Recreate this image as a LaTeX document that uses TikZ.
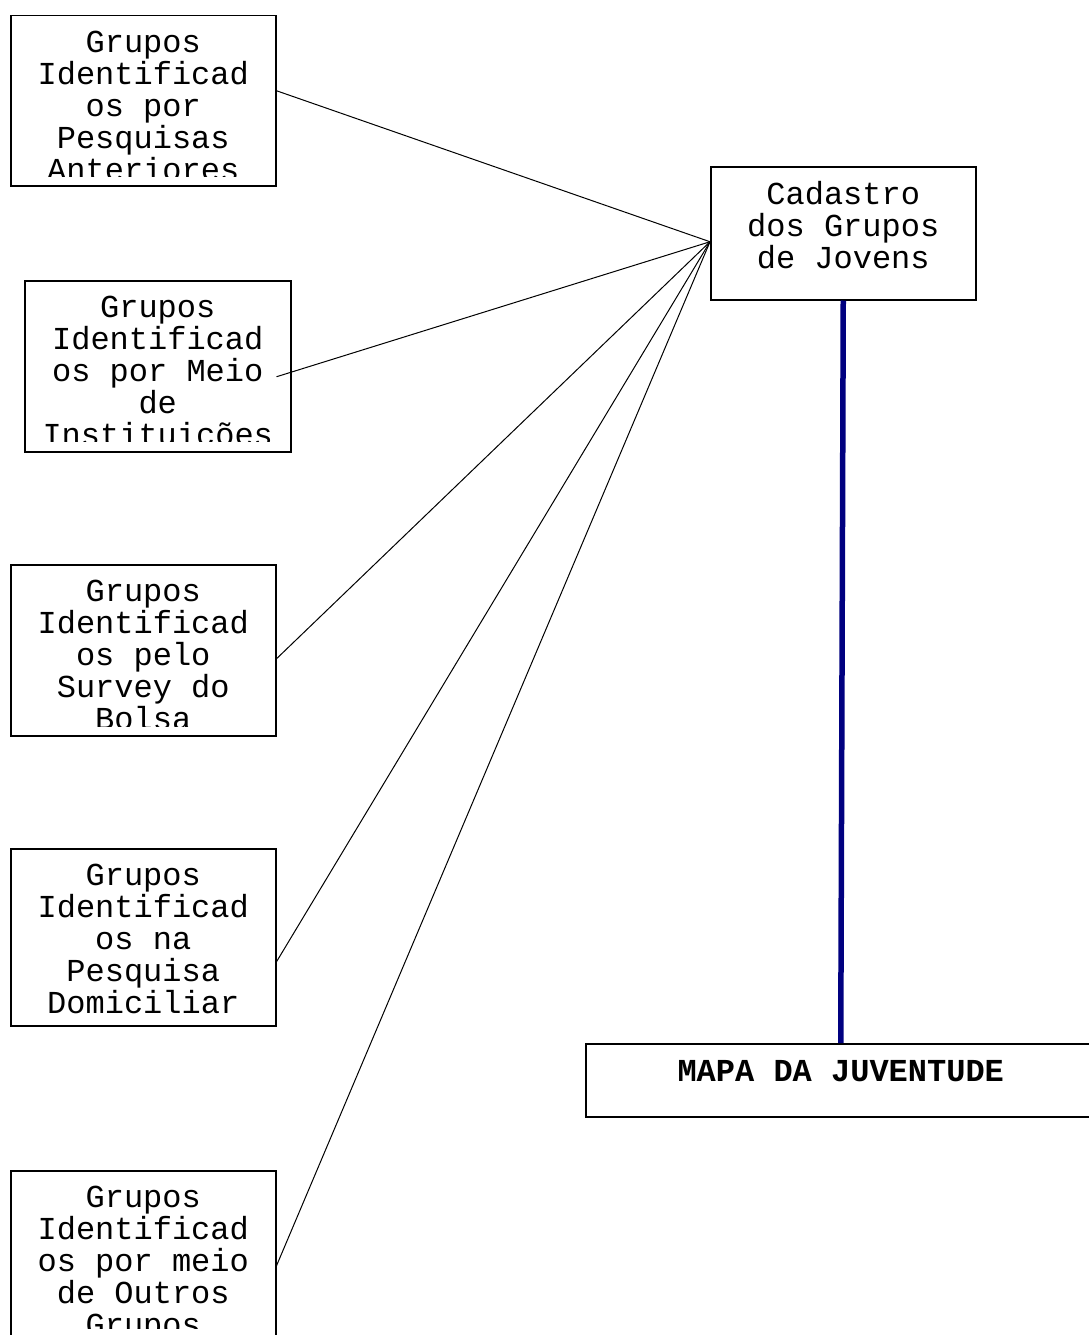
\documentclass[tikz,border=0pt]{standalone}
\usepackage{fontspec}
\setmainfont{Liberation Mono}
\definecolor{azulescuro}{RGB}{0,0,128}
\begin{document}
\begin{tikzpicture}[
    x=1pt, y=-1pt,
    caixa/.style={draw, line width=1.5pt, anchor=north west, inner sep=0pt, minimum width=265pt},
    texto/.style={font=\fontsize{32}{32}\selectfont, align=center, anchor=north, inner sep=0pt, execute at begin node=\strut},
    ligacao/.style={line width=1pt},
    eixo/.style={line width=5.5pt, draw=azulescuro}
  ]
    \useasboundingbox (0,0) rectangle (1088,1335);

    % Grupos (left column)
    \node[caixa, minimum height=170pt] (g1) at (10,15) {};
    \node[caixa, minimum height=171pt, minimum width=266pt] (g2) at (24,280) {};
    \node[caixa, minimum height=171pt] (g3) at (10,564) {};
    \node[caixa, minimum height=177pt] (g4) at (10,848) {};
    \node[caixa, minimum height=167pt] (g5) at (10,1170) {};

    % Texts, cut off near the bottom of each box
    \begin{scope}
      \clip (g1.north west) rectangle ([yshift=10pt]g1.south east);
      \node[texto] (t1) at ([yshift=-15.6pt]g1.north) {Grupos\\Identificad\\os por\\Pesquisas\\Anteriores};
    \end{scope}
    \begin{scope}
      \clip (g2.north west) rectangle ([yshift=11pt]g2.south east);
      \node[texto] (t2) at ([yshift=-15.6pt]g2.north) {Grupos\\Identificad\\os por Meio\\de\\Instituições};
    \end{scope}
    \begin{scope}
      \clip (g3.north west) rectangle ([yshift=10pt]g3.south east);
      \node[texto] (t3) at ([yshift=-15.6pt]g3.north) {Grupos\\Identificad\\os pelo\\Survey do\\Bolsa};
    \end{scope}
    \begin{scope}
      \clip (g4.north west) rectangle ([yshift=10pt]g4.south east);
      \node[texto] (t4) at ([yshift=-15.6pt]g4.north) {Grupos\\Identificad\\os na\\Pesquisa\\Domiciliar};
    \end{scope}
    \begin{scope}
      \clip (g5.north west) rectangle ([yshift=10pt]g5.south east);
      \node[texto] (t5) at ([yshift=-15.6pt]g5.north) {Grupos\\Identificad\\os por meio\\de Outros\\Grupos};
    \end{scope}

    % Cadastro and Mapa
    \node[caixa, minimum height=133pt] (cad) at (710,166) {};
    \node[texto] (tcad) at ([yshift=-15.6pt]cad.north) {Cadastro\\dos Grupos\\de Jovens};
    \node[caixa, minimum height=73pt, minimum width=510pt] (mapa) at (585,1043) {};
    \node[texto, font=\fontsize{32}{32}\selectfont\bfseries] (tmapa) at ([yshift=-15.6pt]mapa.north) {MAPA DA JUVENTUDE};

    % Connectors
    \coordinate (hub) at ([yshift=-8.5pt]cad.west);
    \draw[ligacao] (hub) -- ([yshift=10pt]g1.east);
    \draw[ligacao] (hub) -- ([xshift=-15pt, yshift=-10.5pt]g2.east);
    \draw[ligacao] (hub) -- ([yshift=-8.5pt]g3.east);
    \draw[ligacao] (hub) -- ([yshift=-24.5pt]g4.east);
    \draw[ligacao] (hub) -- ([yshift=-11.5pt]g5.east);
    \draw[eixo] (cad.south) -- (mapa.north);
  \end{tikzpicture}
\end{document}
